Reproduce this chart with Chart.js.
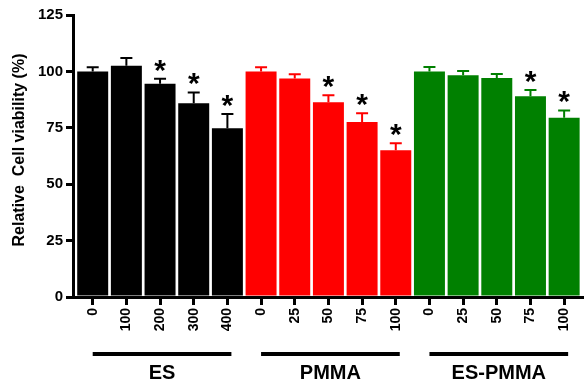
<!DOCTYPE html>
<html>
<head>
<meta charset="utf-8">
<script src="https://cdn.jsdelivr.net/npm/chart.js@4"></script>
<style>
  html, body { margin: 0; padding: 0; background: #fff; }
  #wrap { width: 584px; height: 383px; }
</style>
</head>
<body>
<div id="wrap"><canvas id="grafico"></canvas></div>
<script>
// Datos
const grupos = ["ES", "PMMA", "ES-PMMA"];
const coloresGrupo = ["#000000", "#ff0000", "#008000"];
const dosis = ["0", "100", "200", "300", "400", "0", "25", "50", "75", "100", "0", "25", "50", "75", "100"];
const grupoDeBarra = [0, 0, 0, 0, 0, 1, 1, 1, 1, 1, 2, 2, 2, 2, 2];
const viabilidad = [100, 102.5, 94.5, 85.9, 74.8, 100, 96.8, 86.3, 77.6, 65.1, 100, 98.3, 97.1, 89.0, 79.4];
const errores = [1.8, 3.4, 2.2, 4.8, 6.3, 1.8, 1.9, 3.1, 3.8, 3.1, 1.9, 1.9, 1.8, 2.8, 3.3];
const significativo = [false, false, true, true, true, false, false, true, true, true, false, false, false, true, true];
const ticksY = [0, 25, 50, 75, 100, 125];

const fuente = "Arial, 'Liberation Sans', sans-serif";

// Barras de error, asteriscos, líneas de grupo y título del eje Y
const extras = {
    id: "extras",
    afterDatasetsDraw(chart) {
        const ctx = chart.ctx;
        const meta = chart.getDatasetMeta(0);
        const y = chart.scales.y;
        ctx.save();
        meta.data.forEach((bar, i) => {
            const color = coloresGrupo[grupoDeBarra[i]];
            const yTop = y.getPixelForValue(viabilidad[i]);
            const yErr = y.getPixelForValue(viabilidad[i] + errores[i]);
            ctx.strokeStyle = color;
            ctx.lineWidth = 2;
            ctx.beginPath();
            ctx.moveTo(bar.x, yTop);
            ctx.lineTo(bar.x, yErr);
            ctx.moveTo(bar.x - 6, yErr);
            ctx.lineTo(bar.x + 6, yErr);
            ctx.stroke();

            if (significativo[i]) {
                ctx.font = "bold 30px " + fuente;
                ctx.fillStyle = "#000";
                ctx.textAlign = "center";
                ctx.textBaseline = "alphabetic";
                const m = ctx.measureText("*");
                const off = (m.actualBoundingBoxAscent - m.actualBoundingBoxDescent) / 2;
                ctx.fillText("*", bar.x, yErr - 13 + off);
            }
        });
        ctx.restore();
    },
    afterDraw(chart) {
        const ctx = chart.ctx;
        const x = chart.scales.x;
        ctx.save();
        grupos.forEach((g, gi) => {
            const idx = grupoDeBarra.map((v, i) => v === gi ? i : -1).filter(i => i >= 0);
            const x0 = x.getPixelForValue(idx[0]);
            const x1 = x.getPixelForValue(idx[idx.length - 1]) + 4;
            ctx.fillStyle = "#000";
            ctx.fillRect(x0, 352, x1 - x0, 4);
            ctx.font = "bold 20px " + fuente;
            ctx.textAlign = "center";
            ctx.textBaseline = "middle";
            ctx.fillText(g, (x0 + x1) / 2, 373);
        });

        // título del eje Y
        ctx.translate(20, 150);
        ctx.rotate(-Math.PI / 2);
        ctx.font = "bold 16px " + fuente;
        ctx.textAlign = "center";
        ctx.textBaseline = "middle";
        ctx.fillText("Relative  Cell viability (%)", 0, 0);
        ctx.restore();
    }
};

const ctx = document.getElementById("grafico").getContext("2d");
new Chart(ctx, {
    type: "bar",
    data: {
        datasets: [{
            data: viabilidad.map((v, i) => ({ x: i, y: v })),
            backgroundColor: grupoDeBarra.map(g => coloresGrupo[g]),
            borderWidth: 0,
            barPercentage: 0.92,
            categoryPercentage: 1
        }]
    },
    options: {
        responsive: true,
        maintainAspectRatio: false,
        animation: false,
        layout: { padding: { top: 15, right: 1, left: 0, bottom: 0 } },
        plugins: {
            legend: { display: false },
            tooltip: { enabled: false }
        },
        scales: {
            x: {
                type: "linear",
                offset: false,
                min: -0.585,
                max: 14.56,
                afterBuildTicks: s => { s.ticks = dosis.map((_, i) => ({ value: i })); },
                afterFit: s => {
                    s.height = 86;
                    s.paddingLeft = 0;
                    s.paddingRight = 0;
                },
                ticks: {
                    callback: (v, i) => dosis[i],
                    minRotation: 90,
                    maxRotation: 90,
                    autoSkip: false,
                    padding: 3,
                    color: "#000",
                    font: { family: fuente, size: 14, weight: "bold" }
                },
                grid: {
                    offset: false,
                    drawOnChartArea: false,
                    drawTicks: true,
                    tickLength: 8,
                    lineWidth: 3,
                    color: "#000"
                },
                border: { color: "#000", width: 3 }
            },
            y: {
                min: 0,
                max: 125,
                afterBuildTicks: s => { s.ticks = ticksY.map(v => ({ value: v })); },
                afterFit: s => {
                    s.width = 73;
                    s.paddingTop = 0;
                    s.paddingBottom = 0;
                },
                ticks: {
                    padding: 3,
                    color: "#000",
                    font: { family: fuente, size: 15, weight: "bold" }
                },
                grid: {
                    drawOnChartArea: false,
                    drawTicks: true,
                    tickLength: 7,
                    lineWidth: 3,
                    color: "#000"
                },
                border: { color: "#000", width: 3 }
            }
        }
    },
    plugins: [extras]
});
</script>
</body>
</html>
